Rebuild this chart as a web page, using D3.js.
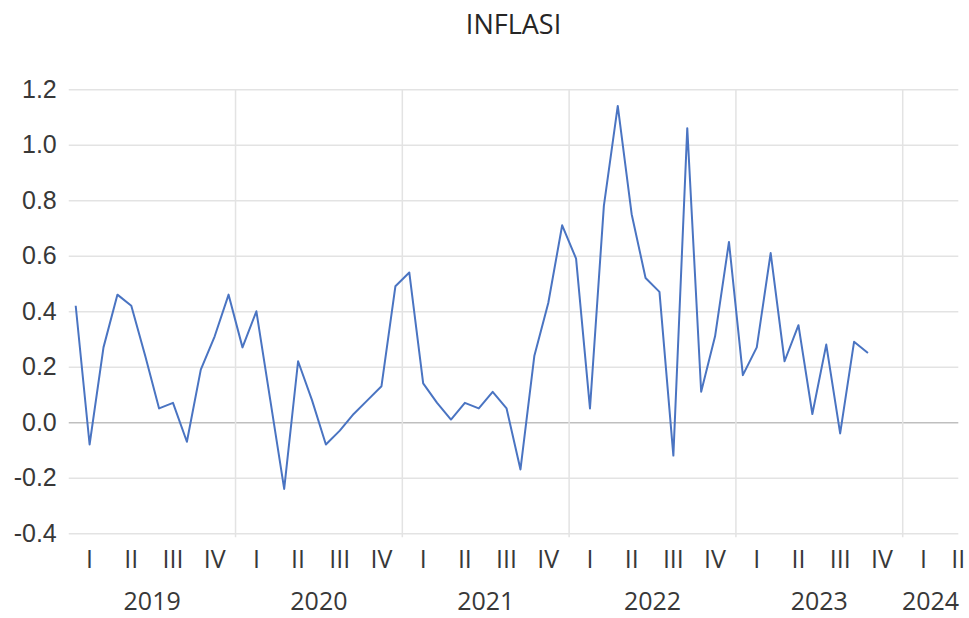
<!DOCTYPE html>
<html>
<head>
<meta charset="utf-8">
<script src="https://cdn.jsdelivr.net/npm/d3@7"></script>
<style>
  body { margin: 0; background: #fff; }
  svg { display: block; font-family: "Open Sans", sans-serif; }
</style>
</head>
<body>
<svg id="chart" width="969" height="618"></svg>
<script>
// chart values (monthly, Jan 2019 - Oct 2023)
var title = 'INFLASI';
var years = ['2019', '2020', '2021', '2022', '2023', '2024'];
var monthsInYear = [12, 12, 12, 12, 12, 4];
var quarterNames = ['I', 'II', 'III', 'IV'];
var yTicks = [-0.4, -0.2, 0.0, 0.2, 0.4, 0.6, 0.8, 1.0, 1.2];
var inflasi = [
  0.42, -0.08, 0.27, 0.46, 0.42, 0.24, 0.05, 0.07, -0.07, 0.19, 0.31, 0.46,
  0.27, 0.40, 0.08, -0.24, 0.22, 0.08, -0.08, -0.03, 0.03, 0.08, 0.13, 0.49,
  0.54, 0.14, 0.07, 0.01, 0.07, 0.05, 0.11, 0.05, -0.17, 0.24, 0.43, 0.71,
  0.59, 0.05, 0.78, 1.14, 0.75, 0.52, 0.47, -0.12, 1.06, 0.11, 0.31, 0.65,
  0.17, 0.27, 0.61, 0.22, 0.35, 0.03, 0.28, -0.04, 0.29, 0.25
];

// category keys "year-month"
var periods = [];
years.forEach(function(yr, i) {
  for (var m = 1; m <= monthsInYear[i]; m++) {
    periods.push(yr + '-' + m);
  }
});

var svg = d3.select('#chart');
var plotLeft = 68.75, plotRight = 958.3, plotTop = 89.3, plotBottom = 533.3;
var textColor = '#383838';
var labelSize = '25px';

var x = d3.scaleBand().domain(periods).range([plotLeft, plotRight]).padding(0);
var y = d3.scaleLinear().domain([-0.4, 1.2]).range([plotBottom, plotTop]);
var bw = x.bandwidth();

//horizontal grid + y labels (plain hyphen for negatives, like the original)
var fmt = d3.format('.1f');
var yAxis = d3.axisLeft(y)
  .tickValues(yTicks)
  .tickSize(-(plotRight - plotLeft))
  .tickPadding(12)
  .tickFormat(function(d) { return fmt(d).replace('\u2212', '-'); });

var gy = svg.append('g')
  .attr('transform', 'translate(' + plotLeft + ',0)')
  .call(yAxis);
gy.select('.domain').remove();
gy.selectAll('.tick line')
  .attr('stroke', function(d) { return d === 0 ? '#bfbfbf' : '#e3e3e3'; })
  .attr('stroke-width', 1.5);
gy.selectAll('.tick text')
  .attr('fill', textColor)
  .style('font-size', labelSize)
  .attr('x', -12);

//vertical year separators
var yearStart = [];
var idx = 0;
years.forEach(function(yr, i) {
  yearStart.push({ year: yr, first: periods[idx], last: periods[idx + monthsInYear[i] - 1] });
  idx += monthsInYear[i];
});

svg.append('g').selectAll('line')
  .data(yearStart.slice(1))
  .enter().append('line')
  .attr('x1', function(d) { return x(d.first); })
  .attr('x2', function(d) { return x(d.first); })
  .attr('y1', plotTop)
  .attr('y2', plotBottom + 4)
  .attr('stroke', '#e3e3e3')
  .attr('stroke-width', 1.5);

//quarter labels
var qLabels = [];
yearStart.forEach(function(ys, i) {
  var y0 = x(ys.first);
  var n = monthsInYear[i];
  for (var q = 0; q < Math.ceil(n / 3); q++) {
    var m0 = q * 3;
    var m1 = Math.min(n, m0 + 3);
    qLabels.push({ name: quarterNames[q], cx: y0 + (m0 + m1) / 2 * bw });
  }
});

svg.append('g').selectAll('text')
  .data(qLabels)
  .enter().append('text')
  .attr('x', function(d) { return d.cx > plotRight - 12 ? plotRight : d.cx; })
  .attr('y', 568)
  .attr('text-anchor', 'middle')
  .attr('fill', textColor)
  .style('font-size', labelSize)
  .text(function(d) { return d.name; });

//year labels
svg.append('g').selectAll('text')
  .data(yearStart)
  .enter().append('text')
  .attr('x', function(d) { return Math.min((x(d.first) + x(d.last) + bw) / 2, 935); })
  .attr('y', 610)
  .attr('text-anchor', 'middle')
  .attr('fill', textColor)
  .style('font-size', labelSize)
  .text(function(d) { return d.year; });

//line
var line = d3.line()
  .x(function(d, i) { return x(periods[i]) + bw / 2; })
  .y(function(d) { return y(d); });

svg.append('path')
  .datum(inflasi)
  .attr('d', line)
  .attr('fill', 'none')
  .attr('stroke', '#4a74c2')
  .attr('stroke-width', 2)
  .attr('stroke-linejoin', 'round');

//title
svg.append('text')
  .attr('x', (plotLeft + plotRight) / 2)
  .attr('y', 34)
  .attr('text-anchor', 'middle')
  .attr('fill', '#262626')
  .style('font-size', '27px')
  .text(title);
</script>
</body>
</html>
